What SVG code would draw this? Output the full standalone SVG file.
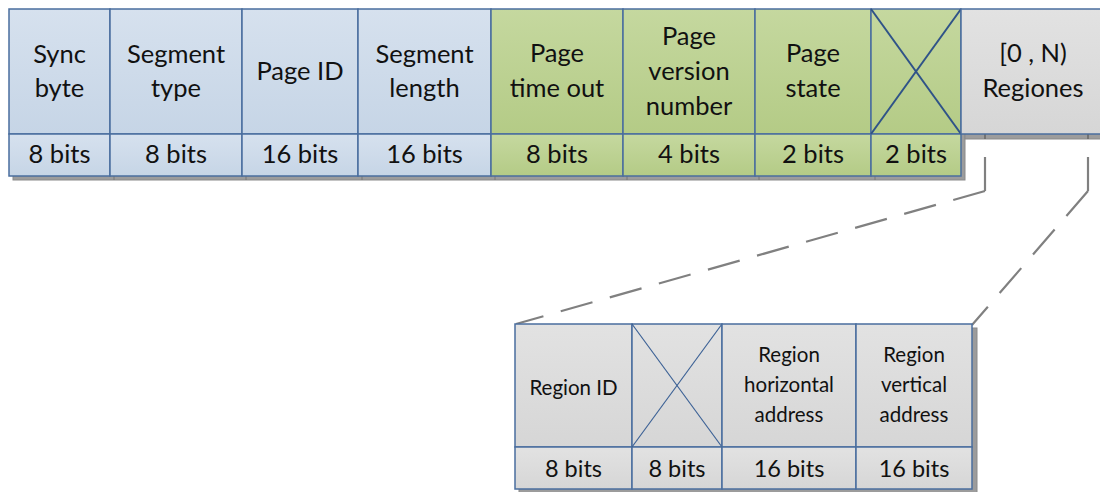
<svg xmlns="http://www.w3.org/2000/svg" width="1100" height="492" viewBox="0 0 1100 492">
<style>
.t{font-family:Lato,"Liberation Sans",sans-serif;font-size:25.5px;fill:#111;text-anchor:middle}
.s{font-family:Lato,"Liberation Sans",sans-serif;font-size:20.5px;fill:#111;text-anchor:middle}
.b{font-family:Lato,"Liberation Sans",sans-serif;font-size:23.5px;fill:#111;text-anchor:middle}
.bl{fill:url(#gb);stroke:#4a6e9e;stroke-width:1.5}
.gr{fill:url(#gg);stroke:#4a6e9e;stroke-width:1.5}
.gy{fill:url(#gy);stroke:#4a6e9e;stroke-width:1.5}
.sh{fill:#9c9c9c;stroke:#8a8a8a;stroke-width:1}
.x{stroke:#2f5388;stroke-width:2}
.xs{stroke:#3d6296;stroke-width:1.2}
.con{fill:none;stroke:#808080;stroke-width:2.2}
.dash{stroke-dasharray:33 18}
</style>
<defs>
<linearGradient id="gb" x1="0" y1="0" x2="0" y2="1"><stop offset="0" stop-color="#d6e1ee"/><stop offset="1" stop-color="#c6d5e6"/></linearGradient>
<linearGradient id="gg" x1="0" y1="0" x2="0" y2="1"><stop offset="0" stop-color="#c5d89f"/><stop offset="1" stop-color="#b4cb86"/></linearGradient>
<linearGradient id="gy" x1="0" y1="0" x2="0" y2="1"><stop offset="0" stop-color="#e2e2e2"/><stop offset="1" stop-color="#d6d6d6"/></linearGradient>
</defs>
<g id="shadows">
<rect class="sh" x="13" y="13" width="952" height="167"/>
<rect class="sh" x="965" y="13" width="140" height="126"/>
<line x1="114" y1="176" x2="114" y2="180" stroke="#777"/>
<line x1="246" y1="176" x2="246" y2="180" stroke="#777"/>
<line x1="362" y1="176" x2="362" y2="180" stroke="#777"/>
<line x1="495" y1="176" x2="495" y2="180" stroke="#777"/>
<line x1="627" y1="176" x2="627" y2="180" stroke="#777"/>
<line x1="759" y1="176" x2="759" y2="180" stroke="#777"/>
<line x1="875" y1="176" x2="875" y2="180" stroke="#777"/>
<line x1="985" y1="134" x2="985" y2="139" stroke="#666" stroke-width="1.5"/>
<line x1="1088" y1="134" x2="1088" y2="139" stroke="#666" stroke-width="1.5"/>
<rect class="sh" x="519" y="328" width="458" height="170"/>
</g>
<g id="sync-byte">
<rect class="bl" x="9" y="9" width="101" height="125"/><rect class="bl" x="9" y="134" width="101" height="42"/>
<text class="t" x="59.5" y="63">Sync</text><text class="t" x="59.5" y="97">byte</text>
<text class="t" x="59.5" y="163">8 bits</text>
</g>
<g id="segment-type">
<rect class="bl" x="110" y="9" width="132" height="125"/><rect class="bl" x="110" y="134" width="132" height="42"/>
<text class="t" x="176" y="63">Segment</text><text class="t" x="176" y="97">type</text>
<text class="t" x="176" y="163">8 bits</text>
</g>
<g id="page-id">
<rect class="bl" x="242" y="9" width="116" height="125"/><rect class="bl" x="242" y="134" width="116" height="42"/>
<text class="t" x="300" y="80">Page ID</text>
<text class="t" x="300" y="163">16 bits</text>
</g>
<g id="segment-length">
<rect class="bl" x="358" y="9" width="133" height="125"/><rect class="bl" x="358" y="134" width="133" height="42"/>
<text class="t" x="424.5" y="63">Segment</text><text class="t" x="424.5" y="97">length</text>
<text class="t" x="424.5" y="163">16 bits</text>
</g>
<g id="page-time-out">
<rect class="gr" x="491" y="9" width="132" height="125"/><rect class="gr" x="491" y="134" width="132" height="42"/>
<text class="t" x="557" y="62">Page</text><text class="t" x="557" y="97">time out</text>
<text class="t" x="557" y="163">8 bits</text>
</g>
<g id="page-version-number">
<rect class="gr" x="623" y="9" width="132" height="125"/><rect class="gr" x="623" y="134" width="132" height="42"/>
<text class="t" x="689" y="45">Page</text><text class="t" x="689" y="80">version</text><text class="t" x="689" y="115">number</text>
<text class="t" x="689" y="163">4 bits</text>
</g>
<g id="page-state">
<rect class="gr" x="755" y="9" width="116" height="125"/><rect class="gr" x="755" y="134" width="116" height="42"/>
<text class="t" x="813" y="62">Page</text><text class="t" x="813" y="97">state</text>
<text class="t" x="813" y="163">2 bits</text>
</g>
<g id="reserved-top">
<rect class="gr" x="871" y="9" width="90" height="125"/><rect class="gr" x="871" y="134" width="90" height="42"/>
<line class="x" x1="871" y1="9" x2="961" y2="134"/><line class="x" x1="961" y1="9" x2="871" y2="134"/>
<text class="t" x="916" y="163">2 bits</text>
</g>
<g id="regiones">
<rect class="gy" x="961" y="9" width="150" height="125"/>
<text class="t" x="1033" y="62">[0 , N)</text><text class="t" x="1033" y="97">Regiones</text>
</g>
<g id="connectors">
<line class="con" x1="985" y1="157" x2="985" y2="191"/>
<line class="con dash" x1="985" y1="191" x2="516" y2="324"/>
<line class="con" x1="1088" y1="157" x2="1088" y2="191"/>
<line class="con dash" x1="1088" y1="191" x2="972" y2="325"/>
</g>
<g id="region-id">
<rect class="gy" x="515" y="324" width="117" height="123"/><rect class="gy" x="515" y="447" width="117" height="42"/>
<text class="s" x="573.5" y="395">Region ID</text>
<text class="b" x="573.5" y="477">8 bits</text>
</g>
<g id="reserved-bottom">
<rect class="gy" x="632" y="324" width="90" height="123"/><rect class="gy" x="632" y="447" width="90" height="42"/>
<line class="xs" x1="632" y1="324" x2="722" y2="447"/><line class="xs" x1="722" y1="324" x2="632" y2="447"/>
<text class="b" x="677" y="477">8 bits</text>
</g>
<g id="region-horizontal-address">
<rect class="gy" x="722" y="324" width="134" height="123"/><rect class="gy" x="722" y="447" width="134" height="42"/>
<text class="s" x="789" y="362">Region</text><text class="s" x="789" y="392">horizontal</text><text class="s" x="789" y="422">address</text>
<text class="b" x="789" y="477">16 bits</text>
</g>
<g id="region-vertical-address">
<rect class="gy" x="856" y="324" width="116" height="123"/><rect class="gy" x="856" y="447" width="116" height="42"/>
<text class="s" x="914" y="362">Region</text><text class="s" x="914" y="392">vertical</text><text class="s" x="914" y="422">address</text>
<text class="b" x="914" y="477">16 bits</text>
</g>
</svg>
